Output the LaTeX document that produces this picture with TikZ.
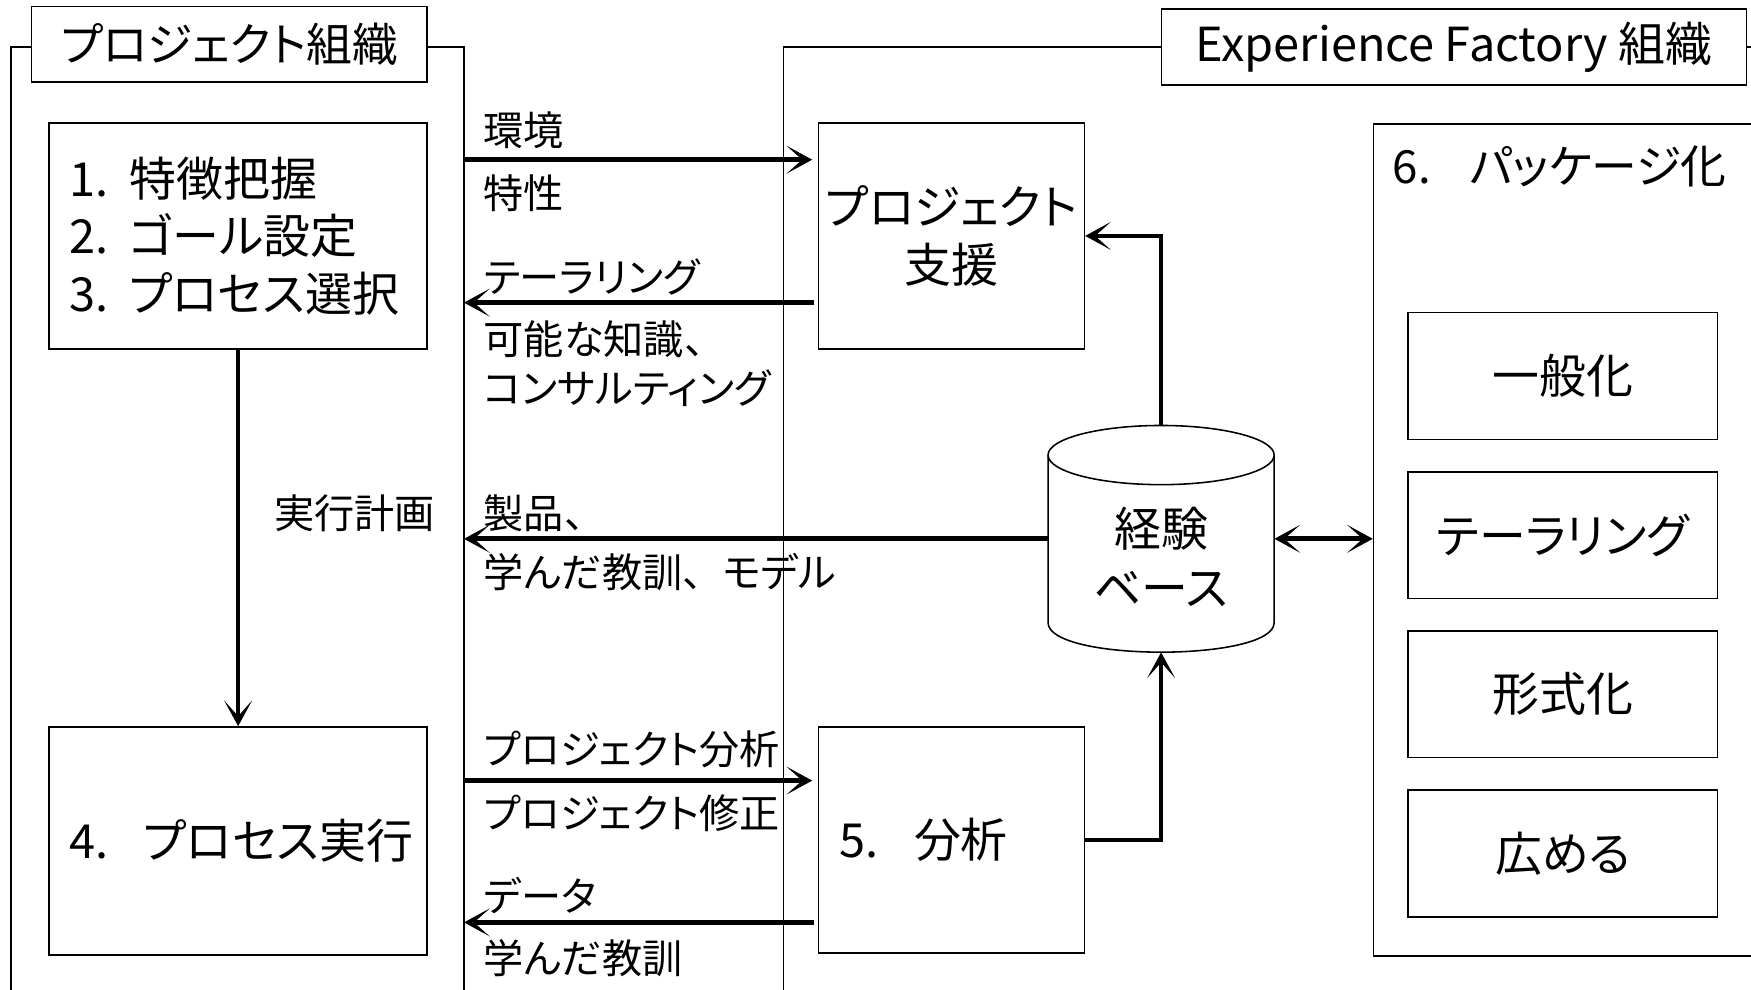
\documentclass[tikz,border=0pt]{standalone}
\usepackage{fontspec}
\setmainfont{Noto Sans CJK JP}[RawFeature=+palt]
\newfontfamily\fwfont{Noto Sans CJK JP}
\newcommand\fwc{{\fwfont 、}}
\usetikzlibrary{arrows.meta}
\tikzset{
  frame/.style={line width=1.4pt},
  box/.style={draw, line width=1.4pt, fill=white, inner sep=0pt},
  big/.style={font=\fontsize{42}{51.5}\selectfont},
  lbl/.style={anchor=west, inner sep=0pt, font=\fontsize{36}{44}\selectfont},
  arr/.style={line width=4.2pt, -{Stealth[length=23pt,width=25pt,inset=14pt]}},
  darr/.style={line width=4.2pt, {Stealth[length=23pt,width=25pt,inset=14pt]}-{Stealth[length=23pt,width=25pt,inset=14pt]}},
}
\begin{document}
\begin{tikzpicture}[x=1pt,y=-1pt]
\useasboundingbox (0,0) rectangle (1568,886);
\fill[white] (0,0) rectangle (1568,886);
\clip (0,0) rectangle (1568,886);
% organisation frames
\draw[frame] (10,900) -- (10,42) -- (415.5,42) -- (415.5,900);
\draw[frame] (701.5,900) -- (701.5,42) -- (1590,42);
\node[box, minimum width=354pt, minimum height=67.5pt, font=\fontsize{41}{41}\selectfont] (ptitle) at (205.4,39.75) {プロジェクト組織};
\node[box, minimum width=524pt, minimum height=68pt, font=\fontsize{42}{42}\selectfont] (etitle) at (1302,42) {Experience Factory 組織};
% project boxes
\node[box, minimum width=338.5pt, minimum height=202.5pt, inner xsep=18pt, text width=302.5pt, align=left, big] (b1) at (213.25,211.25) {1.\hspace{0.45em}特徴把握\\2.\hspace{0.45em}ゴール設定\\3.\hspace{0.45em}プロセス選択};
\node[box, minimum width=338.5pt, minimum height=204pt, inner xsep=18pt, text width=302.5pt, align=left, big] (b4) at (213.25,753) {\mbox{4.\hspace{0.75em}プロセス実行}};
% EF boxes
\node[box, minimum width=238pt, minimum height=202.5pt, align=center, big] (sup) at (852,211.25) {プロジェクト\\支援};
\node[box, minimum width=238pt, minimum height=202.5pt, inner xsep=19pt, text width=200pt, align=left, big] (ana) at (852,752.25) {\mbox{5.\hspace{0.75em}分析}};
\node[box, minimum width=360pt, minimum height=745pt] (b6) at (1410,483.5) {};
\node[lbl, font=\fontsize{41}{41}\selectfont] (b6t) at (1247,149) {6.\hspace{0.85em}パッケージ化};
\node[box, minimum width=277pt, minimum height=113.5pt, big] (g1) at (1399.5,336.75) {一般化};
\node[box, minimum width=277pt, minimum height=113.5pt, big] (g2) at (1399.5,479.25) {テーラリング};
\node[box, minimum width=277pt, minimum height=113.5pt, big] (g3) at (1399.5,621.75) {形式化};
\node[box, minimum width=277pt, minimum height=113.5pt, big] (g4) at (1399.5,764.25) {広める};
% experience base cylinder
\node[minimum width=202.5pt, minimum height=203pt, inner sep=0pt] (db) at (1039.75,482.5) {};
\draw[frame, fill=white] (938.5,407.5) -- (938.5,557.5) .. controls +(0,35.33) and +(0,35.33) .. (1141,557.5) -- (1141,407.5);
\draw[frame, fill=white] (1039.75,407.5) ellipse [x radius=101.25, y radius=26.5];
\node[font=\fontsize{42}{53}\selectfont, align=center, inner sep=0pt] (dbt) at (1039.75,498.5) {経験\\ベース};
% connectors
\coordinate (pe) at (415.5,143);
\coordinate (pt) at (415.5,271);
\coordinate (pa) at (415.5,699);
\coordinate (pd) at (415.5,826);
\draw[arr, shorten >=5pt] (pe) -- (pe -| sup.west);
\draw[arr, shorten <=3pt] (pt -| sup.west) -- (pt);
\draw[arr] (db.west) -- (db.west -| pt);
\draw[arr, shorten >=5pt] (pa) -- (pa -| ana.west);
\draw[arr, shorten <=3pt] (pd -| ana.west) -- (pd);
\draw[arr, line width=3.6pt] (b1.south) -- (b4.north);
\draw[arr] (db.north) |- (sup.east);
\draw[arr] (ana.east) -| (db.south);
\draw[darr] (db.east) -- (db.east -| b6.west);
% labels
\node[lbl] (l1) at (433,117) {環境};
\node[lbl] (l2) at (433,173) {特性};
\node[lbl] (l3) at (433,248) {テーラリング};
\node[lbl, align=left] (l4) at (433,326) {可能な知識\fwc\\コンサルティング};
\node[lbl] (l5) at (433,460) {製品\fwc};
\node[lbl] (l6) at (433,512) {学んだ教訓\fwc モデル};
\node[lbl] (l7) at (433,671) {プロジェクト分析};
\node[lbl] (l8) at (433,728) {プロジェクト修正};
\node[lbl] (l9) at (433,802) {データ};
\node[lbl] (l10) at (433,858) {学んだ教訓};
\node[lbl, anchor=center] (l11) at (317.6,460) {実行計画};
\end{tikzpicture}
\end{document}
